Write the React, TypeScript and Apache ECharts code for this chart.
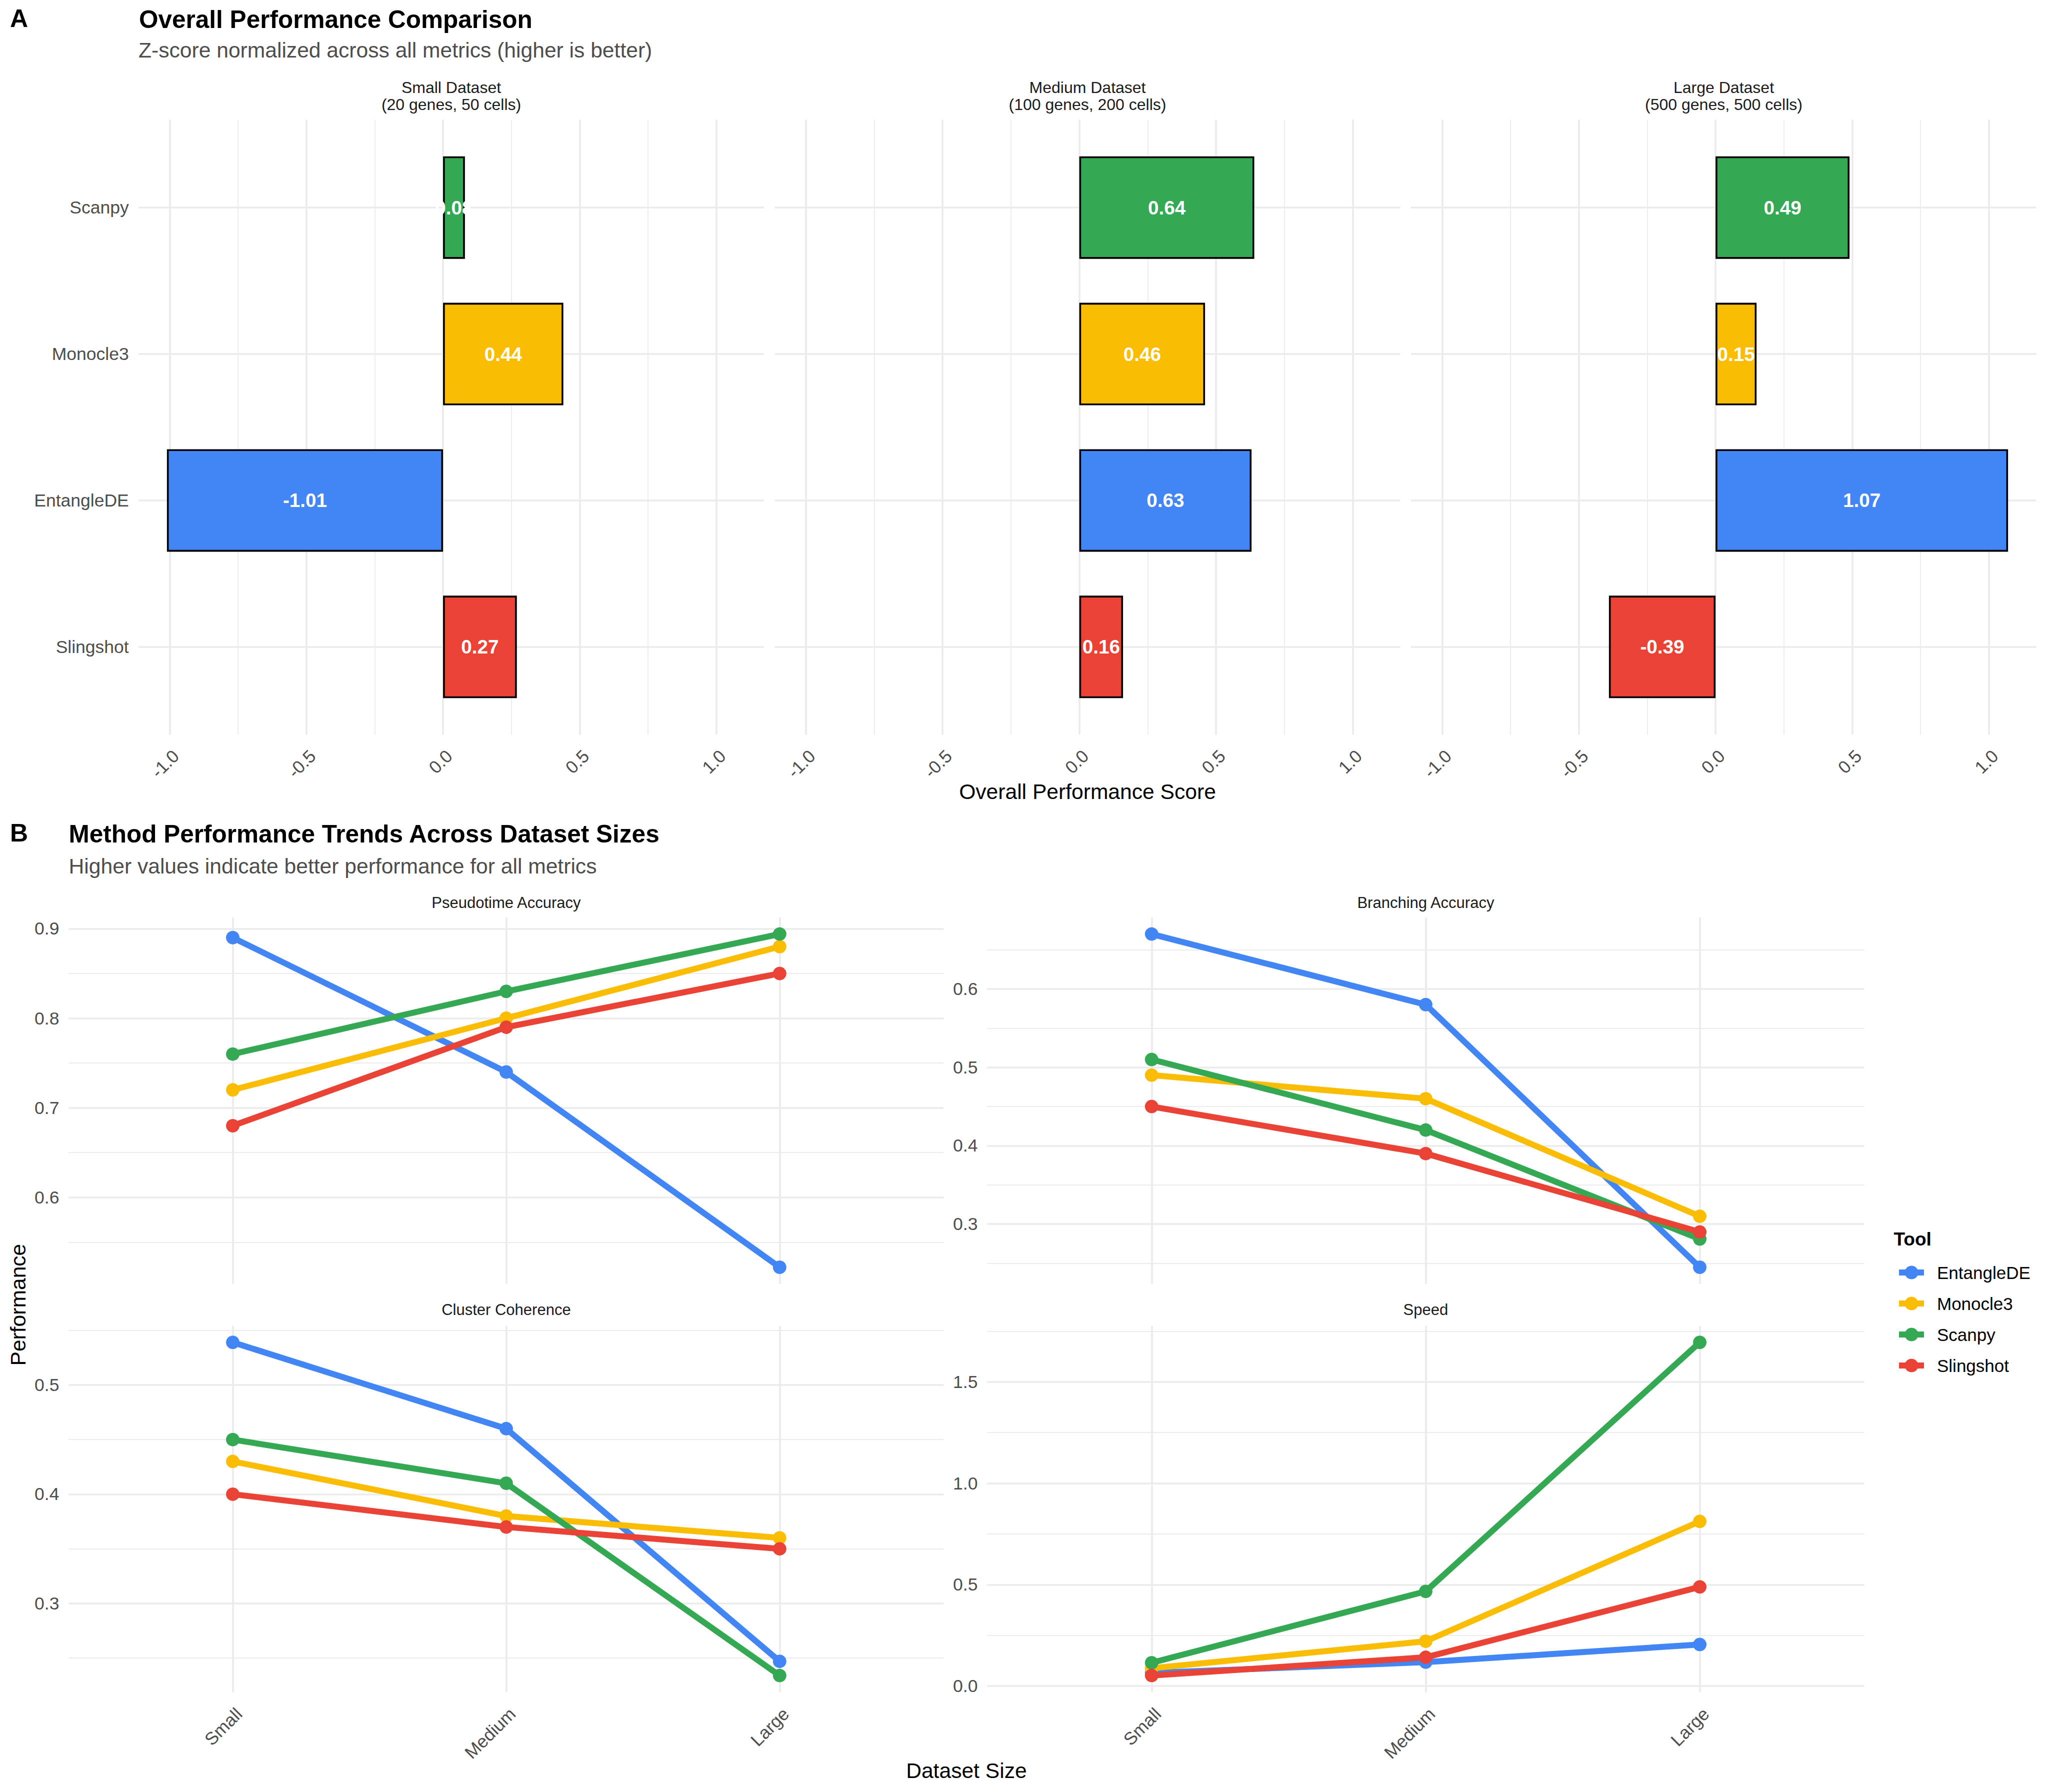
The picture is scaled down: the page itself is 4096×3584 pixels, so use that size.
import React, { useEffect, useRef } from "react";
import * as echarts from "echarts";

// ---------- DATA ----------
// Panel A: overall performance (z-score), tools listed top to bottom
const tools = ["Scanpy", "Monocle3", "EntangleDE", "Slingshot"];
const datasetTitles = ["Small Dataset", "Medium Dataset", "Large Dataset"];
const datasetSubtitles = ["(20 genes, 50 cells)", "(100 genes, 200 cells)", "(500 genes, 500 cells)"];
const overallSmall = [0.08, 0.44, -1.01, 0.27];
const overallMedium = [0.64, 0.46, 0.63, 0.16];
const overallLarge = [0.49, 0.15, 1.07, -0.39];
const scoreTicks = [-1, -0.5, 0, 0.5, 1];
const scoreMinorTicks = [-0.75, -0.25, 0.25, 0.75];

// Panel B: trends across dataset sizes
const sizes = ["Small", "Medium", "Large"];
const legendTools = ["EntangleDE", "Monocle3", "Scanpy", "Slingshot"];
const metrics = ["Pseudotime Accuracy", "Branching Accuracy", "Cluster Coherence", "Speed"];

const pseudotimeEntangleDE = [0.89, 0.74, 0.522];
const pseudotimeMonocle3 = [0.72, 0.8, 0.88];
const pseudotimeScanpy = [0.76, 0.83, 0.894];
const pseudotimeSlingshot = [0.68, 0.79, 0.85];

const branchingEntangleDE = [0.67, 0.58, 0.245];
const branchingMonocle3 = [0.49, 0.46, 0.31];
const branchingScanpy = [0.51, 0.42, 0.281];
const branchingSlingshot = [0.45, 0.39, 0.29];

const clusterEntangleDE = [0.539, 0.46, 0.247];
const clusterMonocle3 = [0.43, 0.38, 0.36];
const clusterScanpy = [0.45, 0.41, 0.234];
const clusterSlingshot = [0.4, 0.37, 0.35];

const speedEntangleDE = [0.065, 0.118, 0.205];
const speedMonocle3 = [0.088, 0.221, 0.812];
const speedScanpy = [0.115, 0.467, 1.695];
const speedSlingshot = [0.052, 0.142, 0.489];

const pseudotimeTicks = [0.6, 0.7, 0.8, 0.9];
const pseudotimeMinor = [0.55, 0.65, 0.75, 0.85];
const branchingTicks = [0.3, 0.4, 0.5, 0.6];
const branchingMinor = [0.25, 0.35, 0.45, 0.55, 0.65];
const clusterTicks = [0.3, 0.4, 0.5];
const clusterMinor = [0.25, 0.35, 0.45, 0.55];
const speedTicks = [0, 0.5, 1.0, 1.5];
const speedMinor = [0.25, 0.75, 1.25, 1.75];

// ---------- STYLE / LAYOUT ----------
const toolColors: Record<string, string> = {
  EntangleDE: "#4285F4",
  Monocle3: "#FBBC04",
  Scanpy: "#34A853",
  Slingshot: "#EA4335",
};
const FONT = "'Liberation Sans', Arial, Helvetica, sans-serif";
const GRID_COLOR = "#EBEBEB";
const MAJOR_W = 3.6;
const MINOR_W = 1.8;
const TICK_COLOR = "#4D4D4D";
const TICK_SIZE = 35.5;
const LINE_W = 12;
const POINT_SIZE = 27;

const W = 4096;
const H = 3584;

const A_LEFT = [277, 1549.5, 2822];
const A_W = 1251;
const A_TOP = 239.5;
const A_H = 1230;
const A_STEP = A_H / 4.2;

const B_LEFT = [137.4, 1974.4];
const B_W = [1750, 1754];
const B_TOP = [1834.8, 2651.4];
const B_H = 733;

function expandRange(vals: number[]) {
  const mn = Math.min(...vals);
  const mx = Math.max(...vals);
  const r = mx - mn;
  return [mn - 0.05 * r, mx + 0.05 * r];
}

function gridMark(axis: "xAxis" | "yAxis", majors: (number | string)[], minors: number[]) {
  return {
    silent: true,
    symbol: ["none", "none"],
    z: 1,
    animation: false,
    label: { show: false },
    emphasis: { disabled: true },
    data: [
      ...minors.map((v) => ({ [axis]: v, lineStyle: { color: GRID_COLOR, width: MINOR_W, type: "solid" } })),
      ...majors.map((v) => ({ [axis]: v, lineStyle: { color: GRID_COLOR, width: MAJOR_W, type: "solid" } })),
    ],
  };
}

function txt(
  text: string,
  x: number,
  y: number,
  size: number,
  fill: string,
  align: string,
  weight: string = "normal"
) {
  return {
    type: "text",
    x,
    y,
    silent: true,
    style: {
      text,
      fontSize: size,
      fontFamily: FONT,
      fontWeight: weight,
      fill,
      textAlign: align,
      textVerticalAlign: "middle",
    },
  };
}

function buildOption() {
  const overall = [overallSmall, overallMedium, overallLarge];
  const aRange = expandRange([...overallSmall, ...overallMedium, ...overallLarge, 0]);

  const metricData: Record<string, number[]>[] = [
    { EntangleDE: pseudotimeEntangleDE, Monocle3: pseudotimeMonocle3, Scanpy: pseudotimeScanpy, Slingshot: pseudotimeSlingshot },
    { EntangleDE: branchingEntangleDE, Monocle3: branchingMonocle3, Scanpy: branchingScanpy, Slingshot: branchingSlingshot },
    { EntangleDE: clusterEntangleDE, Monocle3: clusterMonocle3, Scanpy: clusterScanpy, Slingshot: clusterSlingshot },
    { EntangleDE: speedEntangleDE, Monocle3: speedMonocle3, Scanpy: speedScanpy, Slingshot: speedSlingshot },
  ];
  const metricTicks = [pseudotimeTicks, branchingTicks, clusterTicks, speedTicks];
  const metricMinor = [pseudotimeMinor, branchingMinor, clusterMinor, speedMinor];

  const grid: any[] = [];
  const xAxis: any[] = [];
  const yAxis: any[] = [];
  const series: any[] = [];
  const graphic: any[] = [];

  const hidden = { axisLine: { show: false }, axisTick: { show: false }, splitLine: { show: false } };
  const tickLabel = { color: TICK_COLOR, fontSize: TICK_SIZE, fontFamily: FONT };

  // Panel A frame grids (0..2)
  for (let p = 0; p < 3; p++) {
    grid.push({ left: A_LEFT[p], top: A_TOP, width: A_W, height: A_H });
    xAxis.push({
      gridIndex: p,
      type: "value",
      min: aRange[0],
      max: aRange[1],
      ...hidden,
      axisLabel: {
        ...tickLabel,
        customValues: scoreTicks,
        formatter: (v: number) => v.toFixed(1),
        rotate: 45,
        align: "right",
        verticalAlign: "top",
        margin: 24,
      },
    });
    yAxis.push({ gridIndex: p, type: "value", min: 0, max: 1, show: false });
    series.push({
      type: "line",
      xAxisIndex: p,
      yAxisIndex: p,
      data: [],
      silent: true,
      markLine: gridMark("xAxis", scoreTicks, scoreMinorTicks),
    });
  }
  // Panel A bar grids (3..5)
  for (let p = 0; p < 3; p++) {
    const gi = 3 + p;
    grid.push({ left: A_LEFT[p], top: A_TOP + 0.1 * A_STEP, width: A_W, height: 4 * A_STEP });
    xAxis.push({ gridIndex: gi, type: "value", min: aRange[0], max: aRange[1], show: false });
    yAxis.push({
      gridIndex: gi,
      type: "category",
      data: tools,
      inverse: true,
      ...hidden,
      axisLabel: { ...tickLabel, show: p === 0, margin: 19.3 },
    });
    series.push({
      type: "line",
      xAxisIndex: gi,
      yAxisIndex: gi,
      data: [],
      silent: true,
      markLine: gridMark("yAxis", tools, []),
    });
    series.push({
      type: "bar",
      xAxisIndex: gi,
      yAxisIndex: gi,
      barWidth: "70%",
      z: 2,
      silent: true,
      data: overall[p].map((v, i) => ({
        value: v,
        itemStyle: { color: toolColors[tools[i]], borderColor: "#000", borderWidth: 3.6 },
      })),
      label: {
        show: true,
        position: "inside",
        formatter: (d: any) => Number(d.value).toFixed(2),
        color: "#FFFFFF",
        fontWeight: "bold",
        fontSize: 38.7,
        fontFamily: FONT,
      },
    });
    const cx = A_LEFT[p] + A_W / 2;
    graphic.push(txt(datasetTitles[p], cx, 174.8, 32, "#1A1A1A", "center"));
    graphic.push(txt(datasetSubtitles[p], cx, 208.8, 32, "#1A1A1A", "center"));
  }

  // Panel B grids (6..9)
  for (let m = 0; m < 4; m++) {
    const gi = 6 + m;
    const r = Math.floor(m / 2);
    const c = m % 2;
    grid.push({ left: B_LEFT[c], top: B_TOP[r], width: B_W[c], height: B_H });
    const allVals = legendTools.flatMap((t) => metricData[m][t]);
    const yr = expandRange(allVals);
    xAxis.push({
      gridIndex: gi,
      type: "value",
      min: 0.4,
      max: 3.6,
      ...hidden,
      axisLabel: {
        ...tickLabel,
        show: r === 1,
        customValues: [1, 2, 3],
        formatter: (v: number) => sizes[Math.round(v) - 1],
        rotate: 45,
        align: "right",
        verticalAlign: "top",
        margin: 25,
      },
    });
    yAxis.push({
      gridIndex: gi,
      type: "value",
      min: yr[0],
      max: yr[1],
      ...hidden,
      axisLabel: {
        ...tickLabel,
        customValues: metricTicks[m],
        formatter: (v: number) => v.toFixed(1),
        margin: 19,
      },
    });
    series.push({
      type: "line",
      xAxisIndex: gi,
      yAxisIndex: gi,
      data: [],
      silent: true,
      markLine: gridMark("yAxis", metricTicks[m], metricMinor[m]),
    });
    series.push({
      type: "line",
      xAxisIndex: gi,
      yAxisIndex: gi,
      data: [],
      silent: true,
      markLine: gridMark("xAxis", [1, 2, 3], []),
    });
    legendTools.forEach((t) => {
      series.push({
        type: "line",
        name: t,
        xAxisIndex: gi,
        yAxisIndex: gi,
        data: metricData[m][t].map((v, i) => [i + 1, v]),
        symbol: "circle",
        symbolSize: POINT_SIZE,
        showSymbol: true,
        z: 3,
        silent: true,
        itemStyle: { color: toolColors[t] },
        lineStyle: { color: toolColors[t], width: LINE_W },
        emphasis: { disabled: true },
      });
    });
    graphic.push(txt(metrics[m], B_LEFT[c] + B_W[c] / 2, r === 0 ? 1805 : 2619.5, 31, "#1A1A1A", "center"));
  }

  // Titles and axis titles
  graphic.push(txt("A", 20, 36.5, 50, "#000", "left", "bold"));
  graphic.push(txt("Overall Performance Comparison", 278, 38.2, 49.5, "#000", "left", "bold"));
  graphic.push(txt("Z-score normalized across all metrics (higher is better)", 277, 100, 42.6, "#4D4D4D", "left"));
  graphic.push(txt("Overall Performance Score", (A_LEFT[0] + A_LEFT[2] + A_W) / 2, 1582.6, 42.6, "#000", "center"));
  graphic.push(txt("B", 20, 1665.8, 50, "#000", "left", "bold"));
  graphic.push(txt("Method Performance Trends Across Dataset Sizes", 137.6, 1667, 49.5, "#000", "left", "bold"));
  graphic.push(txt("Higher values indicate better performance for all metrics", 137.6, 1731.7, 42.6, "#4D4D4D", "left"));
  graphic.push({
    type: "text",
    x: 35.7,
    y: (B_TOP[0] + B_TOP[1] + B_H) / 2,
    rotation: Math.PI / 2,
    silent: true,
    style: { text: "Performance", fontSize: 42.6, fontFamily: FONT, fill: "#000", textAlign: "center", textVerticalAlign: "middle" },
  });
  graphic.push(txt("Dataset Size", (B_LEFT[0] + B_LEFT[1] + B_W[1]) / 2, 3540.7, 42.6, "#000", "center"));
  graphic.push(txt("Tool", 3787.5, 2478, 37, "#000", "left", "bold"));

  return {
    animation: false,
    backgroundColor: "#FFFFFF",
    textStyle: { fontFamily: FONT },
    grid,
    xAxis,
    yAxis,
    series,
    graphic,
    legend: {
      data: legendTools,
      orient: "vertical",
      left: 3792,
      top: 2527.5,
      padding: 0,
      itemWidth: 50,
      itemHeight: 34,
      itemGap: 27,
      selectedMode: false,
      lineStyle: { width: LINE_W },
      textStyle: { fontSize: 35, color: "#000", fontFamily: FONT, padding: [0, 0, 0, 21] },
    },
  };
}

export default function App() {
  const ref = useRef<HTMLDivElement>(null);
  useEffect(() => {
    if (!ref.current) return;
    const chart = echarts.init(ref.current, undefined, { renderer: "svg", width: W, height: H });
    chart.setOption(buildOption() as any);
    return () => chart.dispose();
  }, []);
  return <div ref={ref} style={{ position: "absolute", left: 0, top: 0, width: W, height: H }} />;
}
